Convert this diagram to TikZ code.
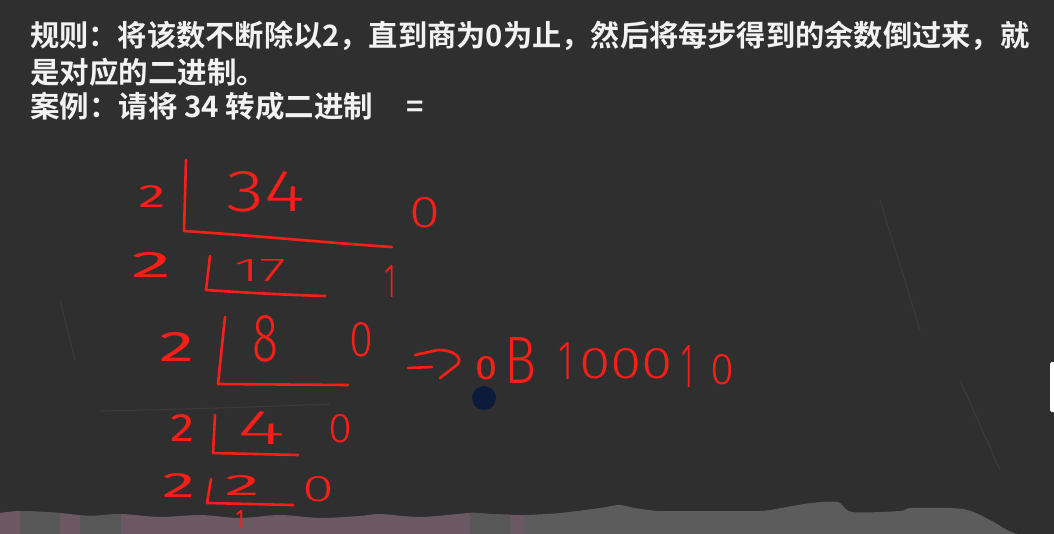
\documentclass[tikz,border=0pt]{standalone}
\usepackage{fontspec}
\usepackage{graphicx}
\newfontfamily\cjk{Noto Sans CJK SC Bold}
\newfontfamily\hand{Fira Sans}[UprightFont={* Light}]
\newfontfamily\handm{Fira Sans}
\newcommand\hw[3]{\resizebox{#1pt}{#2pt}{\hand #3}}
\newcommand\hwm[3]{\resizebox{#1pt}{#2pt}{\handm #3}}
\definecolor{board}{HTML}{2F2F2F}
\definecolor{chalkred}{HTML}{FA1E19}
\definecolor{stripPink}{HTML}{6C5862}
\definecolor{stripGray}{HTML}{575757}
\definecolor{stripRight}{HTML}{5C5C5C}
\definecolor{dotblue}{HTML}{0C1A3C}
\tikzset{
  hwnum/.style={text=chalkred, inner sep=0pt, outer sep=0pt},
  redstroke/.style={draw=chalkred, line width=2.6pt, line cap=round, line join=round},
  cjktext/.style={text=white!95!black, inner sep=0pt, anchor=west, font=\cjk\fontsize{29.5pt}{29.5pt}\selectfont},
  scratch/.style={draw=white, opacity=0.06, line width=1pt}
}
\begin{document}
\begin{tikzpicture}[x=1pt,y=-1pt]
\useasboundingbox (0,0) rectangle (1054,534);
\fill[board] (0,0) rectangle (1054,534);
% faint chalk scratches
\draw[scratch] (100,411) .. controls (200,409) and (280,406) .. (330,404);
\draw[scratch] (880,200) -- (920,330);
\draw[scratch] (960,380) -- (1000,470);
\draw[scratch] (60,300) -- (75,360);
% bottom strip
\begin{scope}
\clip plot[smooth] coordinates {(0,513) (20,511) (60,513) (90,516) (121,514) (160,517) (200,515) (240,518) (280,515) (320,518) (360,516) (380,514) (420,517) (470,513) (490,514) (524,515) (560,513) (600,508) (619,505) (635,508) (659,511) (700,511) (760,511) (781,508) (811,503) (838,502) (852,512) (900,511) (912,508) (963,509) (990,520) (1007,530) (1020,535)} -- (0,535) -- cycle;
\fill[stripPink] (0,495) rectangle (525,534);
\fill[stripGray] (20,495) rectangle (60,534);
\fill[stripGray] (80,495) rectangle (121,534);
\fill[stripGray] (470,495) rectangle (510,534);
\fill[stripRight] (524,495) rectangle (1054,534);
\end{scope}
\fill[white, rounded corners=1.5pt] (1050,362) rectangle (1056,412);
% text
\node[cjktext] (l1) at (30,36) {\resizebox{999pt}{\height}{规则：将该数不断除以2，直到商为0为止，然后将每步得到的余数倒过来，就}};
\node[cjktext] (l2) at (30,72) {是对应的二进制。};
\node[cjktext] (l3) at (30,106) {案例：请将 34 转成二进制\hspace{33pt}=};
% division brackets
\draw[redstroke] (186,160) -- (184,231) .. controls (260,236) and (330,243) .. (392,247);
\draw[redstroke] (210,256) -- (206,290) .. controls (250,293) and (290,295) .. (325,296);
\draw[redstroke] (225,317) -- (218,384) -- (348,385);
\draw[redstroke] (215,415) -- (213,453) -- (298,455);
\draw[redstroke] (211,479) -- (207,503) -- (293,505);
% handwritten numbers
\node[hwnum] (d2a) at (152,197) {\hwm{27}{22}{2}};
\node[hwnum] (n34) at (266,192) {\hw{78}{40}{34}};
\node[hwnum] (r1) at (425,213) {\hw{31}{30}{0}};
\node[hwnum] (d2b) at (152,265) {\hwm{40}{25}{2}};
\node[hwnum] (n17) at (260,271) {\hw{52}{22}{17}};
\node[hwnum] (r2) at (390,281) {\hw{12}{32}{1}};
\node[hwnum] (d2c) at (177,347) {\hwm{35}{29}{2}};
\node[hwnum] (n8) at (265,339) {\hw{26}{46}{8}};
\node[hwnum] (r3) at (361,340) {\hw{24}{34}{0}};
\node[hwnum] (d2d) at (183,428) {\hwm{24}{27}{2}};
\node[hwnum] (n4) at (261,428) {\hw{48}{33}{4}};
\node[hwnum] (r4) at (340,429) {\hw{24}{28}{0}};
\node[hwnum] (d2e) at (179,485) {\hwm{33}{24}{2}};
\node[hwnum] (n2) at (242,485) {\hwm{35}{20}{2}};
\node[hwnum] (r5) at (318,489) {\hw{32}{25}{0}};
\node[hwnum] (q1) at (240,519) {\hwm{9}{18}{1}};
% result arrow and binary
\draw[redstroke] (408,368) -- (432,367);
\draw[redstroke] (415,355) -- (438,350) .. controls (455,350) and (462,358) .. (458,364) -- (440,378);
\node[hwnum] (a0) at (486,368) {\hwm{22}{23}{0}};
\node[hwnum] (aB) at (521,360) {\hw{32}{46}{B}};
\node[hwnum] (a1) at (566,361) {\hw{15}{37}{1}};
\node[hwnum] (a000) at (626,364) {\hw{94}{30}{000}};
\node[hwnum] (a1b) at (687,366) {\hw{12}{42}{1}};
\node[hwnum] (a0b) at (722,370) {\hw{24}{30}{0}};
% blue dot
\fill[dotblue] (484,398) circle (12);
\end{tikzpicture}
\end{document}
